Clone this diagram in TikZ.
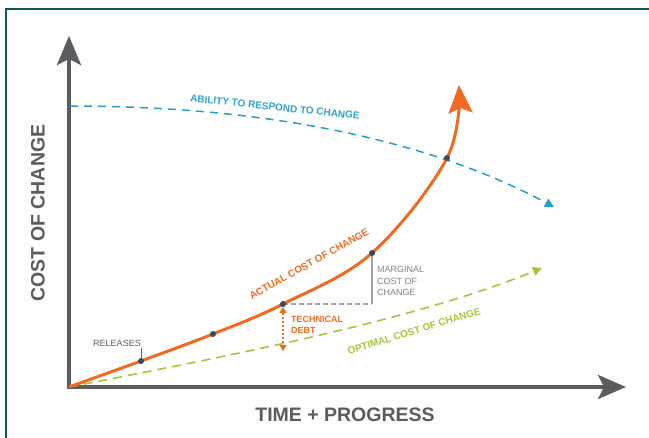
\documentclass[tikz,border=0pt]{standalone}
\usepackage{fontspec}
\setmainfont{Liberation Sans}
\usetikzlibrary{arrows.meta}
\definecolor{frameteal}{HTML}{0D5661}
\definecolor{axisgray}{HTML}{5B5C5F}
\definecolor{curveorange}{HTML}{F26A21}
\definecolor{abilityblue}{HTML}{2AA4D3}
\definecolor{optgreen}{HTML}{A5C739}
\definecolor{dotgray}{HTML}{3B4A5A}
\definecolor{margray}{HTML}{A3A5A8}
\tikzset{
  axisline/.style={axisgray, line width=3.5pt, line join=miter},
  relpoint/.style={circle, fill=dotgray, inner sep=0pt, minimum size=6pt},
  smalllabel/.style={font=\fontsize{9}{10.5}\selectfont, inner sep=0pt},
  boldlabel/.style={font=\bfseries\fontsize{10}{12}\selectfont, inner sep=0pt},
  biglabel/.style={font=\bfseries\fontsize{19.5}{22}\selectfont, text=axisgray, inner sep=0pt}
}
\begin{document}
\begin{tikzpicture}[x=1pt,y=-1pt]
\useasboundingbox (0,0) rectangle (649,438);
\fill[white] (0,0) rectangle (649,438);
% frame
\draw[frameteal, line width=2.5pt] (6,440) -- (6,9) -- (652,9);

% axes
\coordinate (O) at (69,387);
\coordinate (ytip) at (69,36);
\coordinate (xtip) at (626,387);
\draw[axisline, {Stealth[length=29pt,width=24pt,inset=6pt]}-{Stealth[length=28pt,width=24pt,inset=6pt]}] (ytip) -- (O) -- (xtip);

% release points
\coordinate (p1) at (141,361);
\coordinate (p2) at (213,334);
\coordinate (p3) at (283,304);
\coordinate (p4) at (372,253);
\coordinate (p5) at (447,158);
\coordinate (otip) at (459,85);

% ability to respond
\coordinate (b0) at (70,106);
\coordinate (btip) at (554,207);
\draw[abilityblue!85!teal, line width=1.5pt, dash pattern=on 8pt off 6pt, -{Triangle[length=9pt,width=9pt]}]
  (b0) .. controls (250,106) and (420,135) .. (btip);

% optimal cost
\coordinate (gtip) at (542,268);
\draw[optgreen, line width=1.6pt, dash pattern=on 9pt off 6pt, -{Triangle[length=9pt,width=9pt]}]
  (O) .. controls (250,352) and (420,318) .. (gtip);

% marginal cost
\coordinate (mc) at (372,304);
\draw[margray, line width=1.2pt, dash pattern=on 5pt off 3pt] (p3) -- (mc);
\draw[margray, line width=1.2pt] (mc) -- (p4);

% technical debt
\coordinate (td0) at (283,307);
\coordinate (td1) at (283,351);
\draw[curveorange, line width=1.4pt, dash pattern=on 2pt off 2pt, {Triangle[length=6pt,width=7pt]}-{Triangle[length=6pt,width=7pt]}] (td0) -- (td1);

% actual cost curve
\draw[curveorange, line width=3pt, -{Stealth[length=28pt,width=24pt,inset=5pt]}]
  plot[smooth, tension=0.6] coordinates {(O) (p1) (p2) (p3) (p4) (p5) (otip)};

% dots
\foreach \p in {p1,p2,p3,p4,p5} \node[relpoint] (d\p) at (\p) {};

% releases
\node[smalllabel, text=axisgray] (rel) at (117,343) {RELEASES};
\coordinate (relA) at (141,348);
\draw[axisgray, line width=1pt] (relA) -- (dp1);

% labels
\node[boldlabel, text=abilityblue, rotate=-6] (abl) at (275,107) {ABILITY TO RESPOND TO CHANGE};
\node[boldlabel, text=curveorange, rotate=29] (act) at (309,264) {ACTUAL COST OF CHANGE};
\node[boldlabel, text=optgreen, rotate=17] (opt) at (414,331) {OPTIMAL COST OF CHANGE};
\node[boldlabel, font=\bfseries\fontsize{9}{11}\selectfont, text=curveorange, anchor=west, align=left] (tdl) at (291,325) {TECHNICAL\\DEBT};
\node[smalllabel, text=margray!80!black, anchor=west, align=left, font=\fontsize{9}{11.5}\selectfont] (mcl) at (377,281) {MARGINAL\\COST OF\\CHANGE};

\node[biglabel, rotate=90] (ylab) at (38,213) {COST OF CHANGE};
\node[biglabel] (xlab) at (345,415) {TIME + PROGRESS};
\end{tikzpicture}
\end{document}
